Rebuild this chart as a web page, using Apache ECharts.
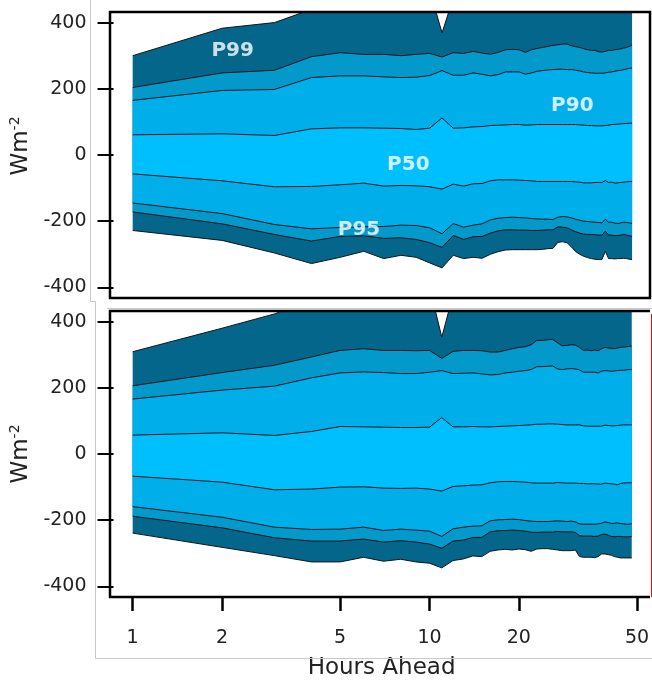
<!DOCTYPE html>
<html>
<head>
<meta charset="utf-8">
<script src="https://cdn.jsdelivr.net/npm/echarts@6/dist/echarts.min.js"></script>
<style>
  html, body { margin: 0; padding: 0; background: #ffffff; }
  #chart { width: 652px; height: 684px; }
</style>
</head>
<body>
<div id="chart"></div>
<script>
// Forecast lead time (hours)
const hours = [1, 2, 3, 4, 5, 6, 7, 8, 9, 10, 11, 12, 13, 14, 15, 16, 17, 18, 19, 20, 21, 22, 23, 24,
               25, 26, 27, 28, 29, 30, 31, 32, 33, 34, 35, 36, 37, 38, 39, 40, 41, 42, 43, 44, 45, 46, 47, 48];

// Upper panel: error percentile envelopes (W m^-2)
const topU99 = [300, 383, 400, 440, 455, 465, 470, 478, 488, 499, 369, 474, 470, 478, 480, 476, 482, 490, 492, 490, 485, 492, 498, 502,
                506, 510, 512, 514, 512, 508, 504, 500, 496, 493, 492, 492, 490, 490, 492, 495, 496, 498, 500, 502, 505, 508, 512, 515];
const topU95 = [204, 248, 256, 297, 309, 304, 304, 300, 304, 307, 296, 309, 307, 313, 308, 304, 310, 318, 319, 318, 310, 318, 322, 325,
                328, 331, 333, 335, 335, 330, 327, 325, 321, 318, 316, 316, 312, 311, 313, 316, 316, 318, 319, 321, 323, 325, 328, 332];
const topU90 = [165, 195, 198, 234, 239, 239, 236, 234, 235, 240, 255, 241, 241, 248, 244, 239, 243, 251, 251, 251, 244, 248, 253, 255,
                257, 258, 259, 259, 258, 258, 256, 254, 251, 249, 248, 247, 247, 247, 248, 250, 251, 253, 255, 256, 258, 260, 262, 263];
const topU50 = [61, 64, 59, 79, 82, 82, 81, 80, 77, 81, 112, 81, 82, 85, 86, 89, 90, 91, 92, 92, 90, 91, 92, 92,
                92, 92, 92, 92, 92, 92, 92, 91, 90, 89, 89, 88, 88, 88, 89, 90, 92, 92, 93, 94, 95, 95, 96, 96];
const topL50 = [-57, -78, -96, -95, -90, -85, -94, -92, -93, -96, -103, -88, -94, -87, -86, -78, -75, -75, -75, -76, -77, -78, -80, -80,
                -80, -80, -80, -80, -80, -80, -81, -82, -84, -84, -84, -83, -83, -83, -77, -83, -82, -85, -84, -83, -82, -81, -80, -80];
const topL90 = [-145, -177, -210, -223, -219, -217, -216, -212, -213, -220, -238, -207, -218, -212, -208, -196, -191, -189, -188, -189, -190, -192, -193, -194,
                -194, -195, -188, -186, -187, -190, -194, -197, -200, -201, -202, -203, -204, -205, -194, -203, -203, -206, -207, -205, -203, -204, -205, -206];
const topL95 = [-172, -208, -240, -260, -246, -244, -252, -250, -255, -265, -279, -243, -255, -247, -246, -236, -229, -226, -226, -227, -227, -228, -228, -227,
                -226, -226, -217, -218, -220, -226, -232, -236, -239, -240, -240, -241, -242, -242, -230, -242, -242, -244, -243, -242, -240, -242, -244, -246];
const topL99 = [-228, -258, -296, -328, -309, -291, -313, -303, -309, -326, -341, -303, -313, -309, -312, -300, -292, -287, -286, -286, -286, -286, -286, -285,
                -283, -282, -264, -262, -265, -278, -292, -300, -306, -310, -313, -315, -316, -316, -291, -313, -313, -314, -313, -313, -312, -313, -315, -316];

// Lower panel: error percentile envelopes (W m^-2)
const botU99 = [309, 380, 423, 464, 480, 490, 495, 500, 503, 505, 353, 480, 478, 482, 484, 480, 484, 490, 496, 500, 503, 508, 518, 520,
                522, 524, 514, 508, 510, 510, 508, 502, 494, 494, 494, 494, 492, 498, 502, 500, 500, 500, 502, 504, 505, 506, 507, 508];
const botU95 = [206, 246, 268, 293, 313, 318, 313, 313, 312, 313, 289, 310, 313, 313, 312, 308, 308, 313, 318, 322, 324, 330, 343, 343,
                345, 346, 336, 327, 328, 330, 329, 322, 313, 314, 312, 314, 312, 318, 322, 320, 319, 318, 320, 322, 323, 324, 325, 326];
const botU90 = [166, 193, 205, 230, 245, 248, 246, 243, 243, 247, 252, 243, 244, 245, 242, 239, 240, 245, 247, 250, 252, 255, 264, 264,
                265, 266, 257, 255, 257, 258, 257, 254, 247, 247, 247, 247, 245, 250, 252, 251, 250, 251, 252, 253, 253, 254, 255, 255];
const botU50 = [57, 64, 56, 68, 83, 82, 81, 80, 80, 81, 110, 82, 82, 83, 82, 82, 83, 84, 85, 86, 87, 88, 90, 90,
                91, 91, 90, 89, 88, 88, 88, 88, 85, 84, 84, 84, 84, 84, 87, 86, 85, 85, 86, 87, 88, 88, 88, 88];
const botL50 = [-67, -85, -108, -106, -100, -99, -103, -104, -103, -106, -112, -98, -96, -94, -93, -87, -84, -83, -83, -84, -85, -87, -88, -88,
                -88, -88, -86, -87, -88, -88, -88, -89, -89, -90, -90, -90, -91, -91, -88, -89, -90, -91, -93, -89, -88, -87, -87, -87];
const botL90 = [-159, -191, -221, -228, -227, -221, -231, -227, -230, -233, -249, -226, -221, -218, -217, -202, -199, -198, -197, -198, -201, -203, -204, -204,
                -204, -203, -202, -203, -204, -203, -205, -211, -212, -212, -212, -212, -211, -209, -205, -207, -210, -209, -208, -210, -211, -212, -212, -211];
const botL95 = [-188, -223, -253, -263, -263, -257, -266, -262, -266, -272, -285, -263, -260, -252, -252, -235, -232, -231, -230, -231, -233, -236, -237, -236,
                -236, -236, -234, -235, -235, -235, -237, -247, -248, -248, -248, -249, -248, -243, -242, -245, -249, -250, -249, -249, -250, -250, -250, -249];
const botL99 = [-239, -282, -307, -326, -326, -312, -324, -318, -326, -330, -344, -322, -317, -308, -310, -294, -290, -288, -290, -287, -289, -294, -287, -286,
                -286, -288, -290, -292, -292, -292, -290, -310, -312, -312, -312, -313, -310, -302, -302, -304, -306, -310, -312, -314, -314, -314, -314, -314];

// Axis ticks
const xTicks = [1, 2, 5, 10, 20, 50];
const yTicks = [-400, -200, 0, 200, 400];

// Band annotations in the upper panel
const bandLabels = ['P99', 'P90', 'P50', 'P95'];
const bandLabelAt = [[2.17, 315], [30.2, 150], [8.47, -30], [5.78, -227]];

// ---- layout & style ----
const FONT = 'DejaVu Sans';
const TEXT = '#222222';
const GRID_LEFT = 110, GRID_WIDTH = 540, GRID_HEIGHT = 286;
const PANEL_TOPS = [12, 311];
const Y_MIN = -432, Y_MAX = 432;
const X_MIN = 0.862, X_MAX = 55.15;

const DARK = '#03668a', MEDIUM = '#0499cb', LIGHT = '#00aeea', CORE = '#00bfff';

// Every boundary is filled towards zero; the outer envelopes are drawn first so
// each inner one paints its own band on top.
function panelSeries(idx, upper, lower) {
  const fills = [DARK, MEDIUM, LIGHT, CORE];
  const make = (arr, k) => ({
    type: 'line',
    xAxisIndex: idx,
    yAxisIndex: idx,
    data: hours.map((h, i) => [h, arr[i]]),
    symbol: 'none',
    silent: true,
    clip: true,
    lineStyle: { color: '#141414', width: 1 },
    areaStyle: { color: fills[k], opacity: 1, origin: 0 },
    z: 2
  });
  return [...upper.map(make), ...lower.map(make)];
}

// nameShift nudges the rotated unit label along the axis (positive = upwards)
function yAxisFor(idx, nameShift) {
  return {
    type: 'value',
    gridIndex: idx,
    min: Y_MIN,
    max: Y_MAX,
    name: '{a|Wm}{b|-2}',
    nameLocation: 'middle',
    nameGap: 78,
    nameRotate: 90,
    nameTextStyle: {
      padding: [0, 0, 0, nameShift * 2],
      rich: {
        a: { fontFamily: FONT, fontSize: 23, color: TEXT, lineHeight: 26 },
        b: { fontFamily: FONT, fontSize: 14, color: TEXT, verticalAlign: 'top', lineHeight: 26 }
      }
    },
    axisLine: { show: false, onZero: false },
    splitLine: { show: false },
    axisTick: { show: true, length: 16, customValues: yTicks, lineStyle: { color: '#000', width: 2 } },
    axisLabel: { customValues: yTicks, fontFamily: FONT, fontSize: 19, color: TEXT, margin: 27 }
  };
}

const chart = echarts.init(document.getElementById('chart'), null, { renderer: 'canvas' });

const frame = '#c9c9c9';
chart.setOption({
  animation: false,
  backgroundColor: '#ffffff',
  grid: PANEL_TOPS.map(t => ({ left: GRID_LEFT, top: t, width: GRID_WIDTH, height: GRID_HEIGHT, containLabel: false })),
  xAxis: [
    { type: 'log', logBase: 10, gridIndex: 0, min: X_MIN, max: X_MAX, show: false,
      axisLine: { show: false, onZero: false } },
    {
      type: 'log', logBase: 10, gridIndex: 1, min: X_MIN, max: X_MAX,
      position: 'bottom',
      name: 'Hours Ahead', nameLocation: 'middle', nameGap: 60,
      nameTextStyle: { fontFamily: FONT, fontSize: 23, color: TEXT },
      axisLine: { show: false, onZero: false },
      splitLine: { show: false },
      minorTick: { show: false },
      axisTick: { show: true, length: 14, customValues: xTicks, lineStyle: { color: '#000', width: 2.5 } },
      axisLabel: { customValues: xTicks, fontFamily: FONT, fontSize: 19, color: TEXT, margin: 32,
                   formatter: v => String(Math.round(v)) }
    }
  ],
  yAxis: [yAxisFor(0, 9), yAxisFor(1, 0)],
  series: [
    ...panelSeries(0, [topU99, topU95, topU90, topU50], [topL99, topL95, topL90, topL50]),
    ...panelSeries(1, [botU99, botU95, botU90, botU50], [botL99, botL95, botL90, botL50]),
    {
      type: 'scatter',
      xAxisIndex: 0,
      yAxisIndex: 0,
      silent: true,
      symbolSize: 1,
      itemStyle: { color: 'transparent' },
      data: bandLabels.map((name, i) => ({ name: name, value: bandLabelAt[i] })),
      label: {
        show: true, position: 'inside', formatter: '{b}',
        color: '#ffffff', fontFamily: FONT, fontWeight: 'bold', fontSize: 20
      },
      z: 10
    }
  ],
  graphic: [
    // panel frames
    { type: 'rect', z: 100, silent: true,
      shape: { x: GRID_LEFT, y: PANEL_TOPS[0], width: GRID_WIDTH, height: GRID_HEIGHT },
      style: { fill: 'none', stroke: '#000', lineWidth: 2.5 } },
    { type: 'polyline', z: 100, silent: true,
      shape: { points: [[GRID_LEFT + GRID_WIDTH, PANEL_TOPS[1]], [GRID_LEFT, PANEL_TOPS[1]],
                        [GRID_LEFT, PANEL_TOPS[1] + GRID_HEIGHT], [GRID_LEFT + GRID_WIDTH, PANEL_TOPS[1] + GRID_HEIGHT]] },
      style: { fill: 'none', stroke: '#000', lineWidth: 2.5 } },
    { type: 'line', z: 100, silent: true,
      shape: { x1: 651.5, y1: PANEL_TOPS[1] + 3, x2: 651.5, y2: PANEL_TOPS[1] + GRID_HEIGHT },
      style: { stroke: '#e01010', lineWidth: 1 } },
    // light outer frame lines
    { type: 'polyline', z: 1, silent: true,
      shape: { points: [[90.5, 0], [90.5, 301.5], [95.5, 301.5], [95.5, 658.5], [652, 658.5]] },
      style: { fill: 'none', stroke: frame, lineWidth: 1 } },
    { type: 'line', z: 1, silent: true,
      shape: { x1: 107, y1: 308.5, x2: 652, y2: 308.5 },
      style: { stroke: frame, lineWidth: 1 } }
  ]
});
</script>
</body>
</html>
